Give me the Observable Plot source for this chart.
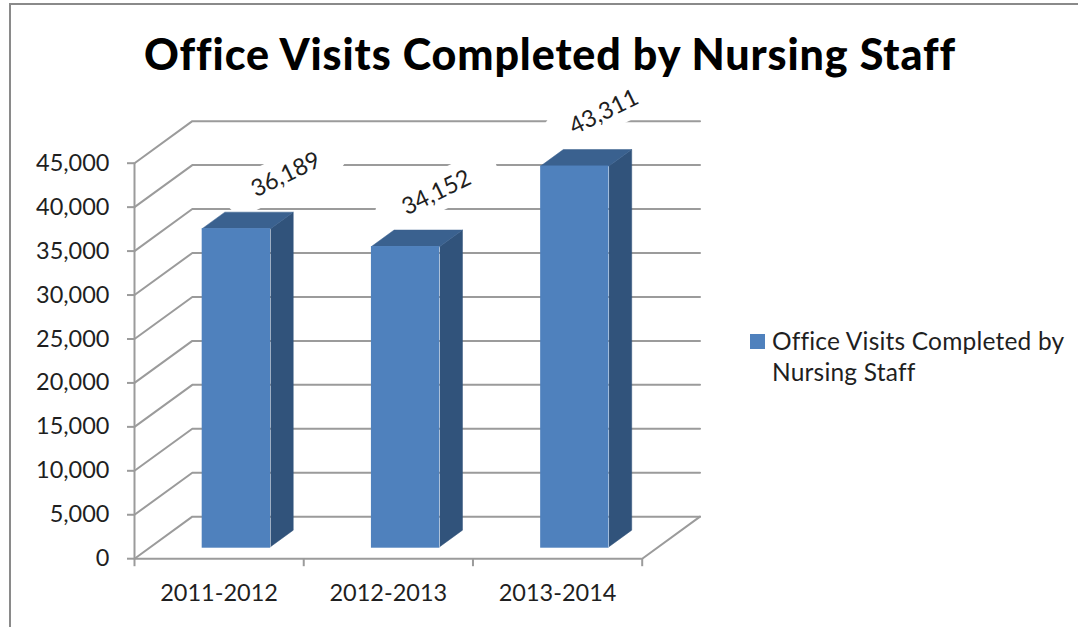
<!DOCTYPE html>
<html><head><meta charset="utf-8">
<script src="https://cdn.jsdelivr.net/npm/d3@7"></script>
<script src="https://cdn.jsdelivr.net/npm/@observablehq/plot@0.6"></script>
<style>
html,body{margin:0;padding:0;background:#fff;overflow:hidden}
#wrap{position:relative;width:1078px;height:627px;font-family:Lato,"Open Sans",sans-serif;color:#1f1f1f}
#border{position:absolute;left:9px;top:3px;right:-10px;bottom:-10px;border:2px solid #8a8a8a}
h1{position:absolute;left:0;width:1100px;top:26px;margin:0;text-align:center;font-size:43px;font-weight:900;letter-spacing:.9px;color:#000;line-height:56px}
#legend{position:absolute;left:772px;top:325px;width:300px;font-size:24.5px;line-height:31px;letter-spacing:.2px}
#swatch{position:absolute;left:750px;top:334px;width:15px;height:15px;background:#4f81bd}
#chart{position:absolute;left:0;top:0}
</style></head><body>
<div id="wrap">
<div id="border"></div>
<div id="chart"></div>
<h1 id="title">Office Visits Completed by Nursing Staff</h1>
<div id="swatch"></div>
<div id="legend">Office Visits Completed by<br>Nursing Staff</div>
</div>
<script>
const categories = ["2011-2012", "2012-2013", "2013-2014"];
const visits = [36189, 34152, 43311];
const yTicks = [0, 5000, 10000, 15000, 20000, 25000, 30000, 35000, 40000, 45000];
const labelNudge = [0.09, -0.02, -0.03];

// Oblique projection depth, in scale units
const wallDX = 0.3416, wallDY = 4783;
const barDX = 0.134, barDY = 1879;
const barL = 0.4, barR = 0.804;
const n = categories.length;

const grid = "#9b9b9b", gridW = 2;
const front = "#4f81bd", side = "#31537b", topFace = "#3a618f";

const bars = visits.map((v, i) => ({i, v, x1: i + barL, x2: i + barR, lx: i + barR + labelNudge[i]}));
const sideFaces = bars.flatMap(b => [
  {id: b.i, x: b.x2, y: 0}, {id: b.i, x: b.x2 + barDX, y: barDY},
  {id: b.i, x: b.x2 + barDX, y: b.v + barDY}, {id: b.i, x: b.x2, y: b.v}
]);
const topFaces = bars.flatMap(b => [
  {id: b.i, x: b.x1, y: b.v}, {id: b.i, x: b.x1 + barDX, y: b.v + barDY},
  {id: b.i, x: b.x2 + barDX, y: b.v + barDY}, {id: b.i, x: b.x2, y: b.v}
]);
const wall = yTicks.flatMap(t => [
  {id: t, x: 0, y: t}, {id: t, x: wallDX, y: t + wallDY}, {id: t, x: n + wallDX, y: t + wallDY}
]);
const floorRight = [{x: n, y: 0}, {x: n + wallDX, y: wallDY}];

const BAR_LIFT = -12, LABEL_LIFT = -66;
const plainLine = {draw(ctx, l) { ctx.moveTo(0, 0); ctx.lineTo(0, -l); }};

const plot = Plot.plot({
  width: 1078, height: 627,
  marginLeft: 134, marginRight: 436.3, marginTop: 162.7, marginBottom: 68.8,
  style: {background: "transparent", overflow: "visible", fontFamily: "Lato,'Open Sans',sans-serif", fontSize: "21px"},
  x: {domain: [0, n], range: [134, 641.7]},
  y: {domain: [0, 45000], range: [558.2, 162.7]},
  marks: [
    Plot.line(wall, {x: "x", y: "y", z: "id", stroke: grid, strokeWidth: gridW}),
    Plot.line(floorRight, {x: "x", y: "y", stroke: grid, strokeWidth: gridW}),
    Plot.ruleY([0], {x1: 0, x2: n, stroke: grid, strokeWidth: gridW}),
    Plot.axisY({ticks: yTicks, tickFormat: d3.format(","), tickSize: 7, tickPadding: 18, stroke: grid, strokeWidth: gridW, fill: "#1f1f1f", fontSize: 23.5, label: null}),
    Plot.ruleX([0], {y1: 0, y2: 45000, stroke: grid, strokeWidth: gridW}),
    Plot.axisX({ticks: [0, 1, 2, 3], tickFormat: () => "", tickSize: 8, stroke: grid, strokeWidth: gridW, label: null}),
    Plot.axisX({ticks: categories.map((c, i) => i + 0.5), tickFormat: d => categories[Math.floor(d)], tickSize: 0, tickPadding: 26, fill: "#1f1f1f", fontSize: 23.5, label: null}),
    // white plate behind each data label, interrupting the gridlines
    Plot.vector(bars, {x: "lx", y: "v", length: 94, rotate: 64, shape: plainLine, anchor: "middle", stroke: "white", strokeWidth: 38, dy: LABEL_LIFT}),
    Plot.line(sideFaces, {x: "x", y: "y", z: "id", fill: side, stroke: side, strokeWidth: 0.5, dy: BAR_LIFT}),
    Plot.line(topFaces, {x: "x", y: "y", z: "id", fill: topFace, stroke: topFace, strokeWidth: 0.5, dy: BAR_LIFT}),
    Plot.rectY(bars, {x1: "x1", x2: "x2", y1: 0, y2: "v", fill: front, dy: BAR_LIFT, insetBottom: -1.5}),
    Plot.text(bars, {
      x: "lx", y: "v", text: d => d3.format(",")(d.v),
      rotate: -26, dy: LABEL_LIFT, fontSize: 23.5, fill: "#1f1f1f"
    })
  ]
});
document.getElementById("chart").append(plot);
</script>
</body></html>
